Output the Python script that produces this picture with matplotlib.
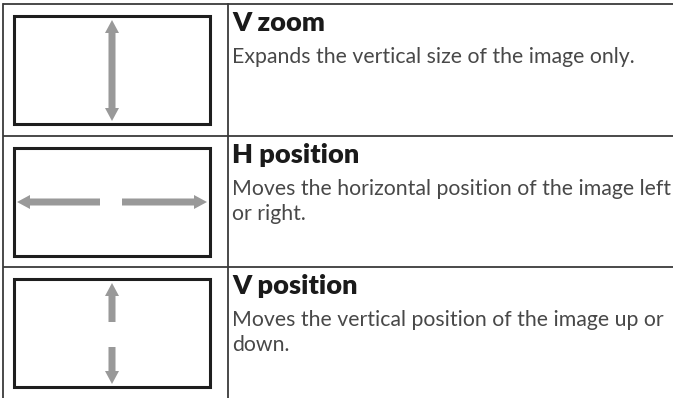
import matplotlib
matplotlib.use("Agg")
import matplotlib.pyplot as plt

# table content
titles = ["V zoom", "H position", "V position"]
descriptions = [
    ["Expands the vertical size of the image only."],
    ["Moves the horizontal position of the image left", "or right."],
    ["Moves the vertical position of the image up or", "down."],
]
row_tops = [4, 136, 267]
col_split = 228

W, H = 673, 398
fig = plt.figure(figsize=(W / 100, H / 100), dpi=100)
ax = fig.add_axes([0, 0, 1, 1])
ax.set_xlim(0, W)
ax.set_ylim(H, 0)
ax.axis("off")

line_c = "#3a3a3a"
arrow_c = "#999999"

# grid lines
for y in row_tops:
    ax.plot([3, W], [y, y], color=line_c, lw=1.3, solid_capstyle="butt")
ax.plot([3, 3], [row_tops[0], H], color=line_c, lw=1.3)
ax.plot([col_split, col_split], [row_tops[0], H], color=line_c, lw=1.3)

# screen rectangles
for y in row_tops:
    ax.add_patch(plt.Rectangle((14, y + 12), 196, 108, fill=False,
                               edgecolor="#1e1e1e", lw=2.2))

aw = dict(width=7, head_width=14, head_length=13, color=arrow_c,
          length_includes_head=True, lw=0)

# V zoom: double-headed vertical arrow
cy = row_tops[0]
ax.arrow(112, cy + 66, 0, -50, **aw)
ax.arrow(112, cy + 66, 0, 51, **aw)

# H position: two horizontal arrows pointing outwards
cy = row_tops[1] + 66
ax.arrow(100, cy, -83, 0, **aw)
ax.arrow(122, cy, 85, 0, **aw)

# V position: up and down arrows
ty = row_tops[2]
ax.arrow(112, ty + 55, 0, -39, **aw)
ax.arrow(112, ty + 80, 0, 37, **aw)

# text
for top, t, desc in zip(row_tops, titles, descriptions):
    ax.text(232, top + 27, t, fontsize=19.5, fontweight="heavy", family="Lato",
            color="#1a1a1a", va="baseline", ha="left")
    for i, line in enumerate(desc):
        ax.text(232, top + 59 + 25 * i, line, fontsize=15.3, fontweight="normal",
                family="Lato", color="#484848", va="baseline", ha="left")

fig.savefig("out.png", dpi=100)
